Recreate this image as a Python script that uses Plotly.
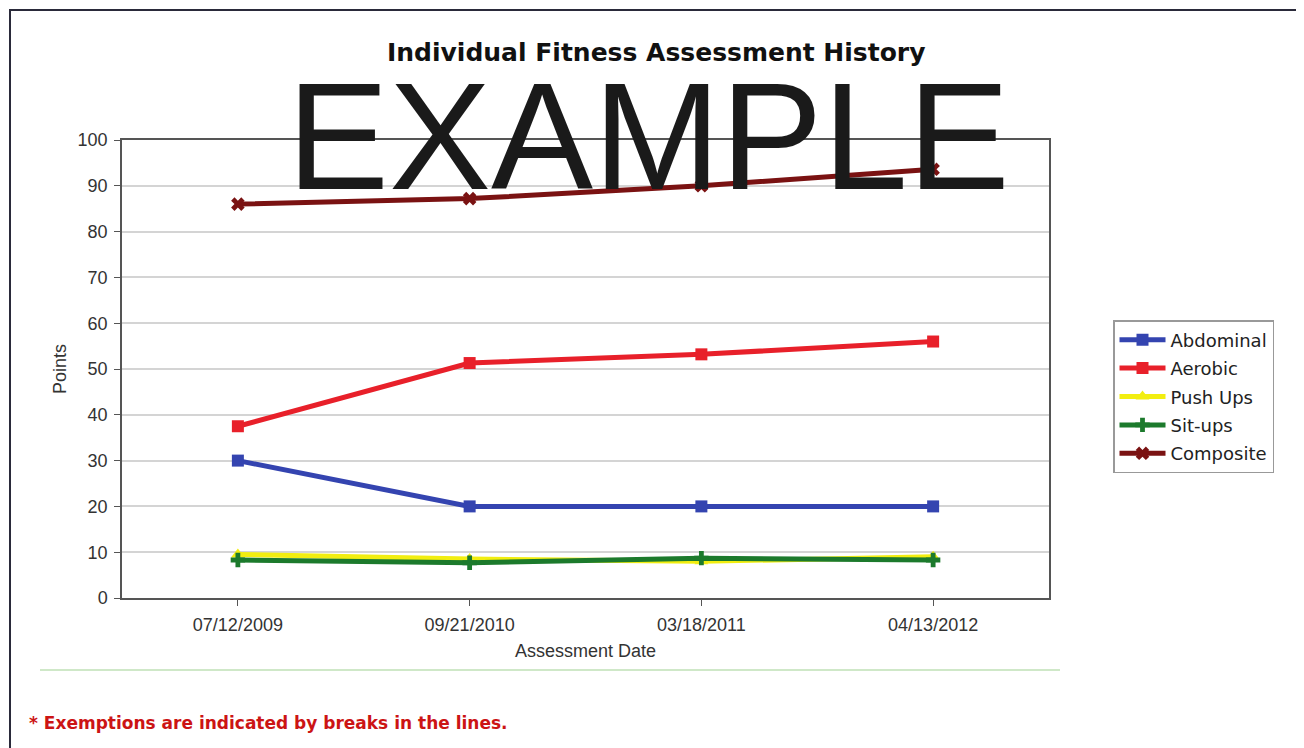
import plotly.graph_objects as go

dates = ["07/12/2009", "09/21/2010", "03/18/2011", "04/13/2012"]
abdominal = [30, 20, 20, 20]
aerobic = [37.5, 51.3, 53.2, 56.0]
push_ups = [9.5, 8.5, 8.0, 9.0]
sit_ups = [8.3, 7.7, 8.7, 8.3]
composite = [86.0, 87.2, 90.0, 93.6]
y_ticks = [0, 10, 20, 30, 40, 50, 60, 70, 80, 90, 100]

# page body has an 8px margin; work in screenshot pixels and shift
O = 8
W, H = 1304 - O, 748 - O
L, R, T, B = 122, 1049, 140, 598


def px(x):
    return (x - L) / (R - L)


def py(y):
    return (B - y) / (B - T)


series = [
    ("Abdominal", abdominal, "#3444B0", "square", "Abdominal"),
    ("Aerobic", aerobic, "#E8202A", "square", "Aerobic"),
    ("Push Ups", push_ups, "#F2EE10", "triangle-up", "Push Ups"),
    ("Sit-ups", sit_ups, "#1C7A2C", "cross", "Sit-ups"),
    ("Composite", composite, "#7A1212", "x", "Composite"),
]

fig = go.Figure()
for name, vals, col, sym, grp in series:
    fig.add_trace(go.Scatter(
        x=dates, y=vals, name=name, mode="lines+markers",
        line=dict(color=col, width=5),
        marker=dict(symbol=sym, size=12, color=col),
        legendgroup=grp,
    ))

axis_font = dict(family="Liberation Sans", size=18, color="#333333")

fig.update_layout(
    width=W, height=H,
    margin=dict(l=L - O, r=1304 - R, t=T - O, b=748 - B),
    paper_bgcolor="white", plot_bgcolor="white",
    showlegend=True,
    legend=dict(
        x=px(1113), y=py(320), xanchor="left", yanchor="top",
        bgcolor="white", bordercolor="#999999", borderwidth=1.5,
        font=dict(family="DejaVu Sans", size=18, color="#222222"),
        traceorder="grouped", tracegroupgap=2, itemwidth=46,
    ),
    xaxis=dict(
        type="category", range=[-0.5, 3.5],
        showgrid=False, showline=True, linecolor="#555555", linewidth=1.5,
        mirror=True, ticks="outside", ticklen=6, tickcolor="#555555",
        tickfont=axis_font, ticklabelstandoff=4,
        title=dict(text="Assessment Date", standoff=10, font=axis_font),
    ),
    yaxis=dict(
        range=[0, 100], tickvals=y_ticks,
        showgrid=True, gridcolor="#d4d4d4", gridwidth=1.5,
        showline=True, linecolor="#555555", linewidth=1.5, mirror=True,
        ticks="outside", ticklen=6, tickcolor="#555555", zeroline=False,
        tickfont=axis_font, ticklabelstandoff=3,
        title=dict(text="Points", standoff=6, font=axis_font),
    ),
)

fig.add_annotation(
    text="<b>Individual Fitness Assessment History</b>",
    xref="paper", yref="paper", x=px(656), y=py(53),
    showarrow=False, xanchor="center", yanchor="middle",
    font=dict(family="DejaVu Sans", size=25, color="#111111"),
)
fig.add_annotation(
    text="EXAMPLE",
    xref="paper", yref="paper", x=px(648), y=py(135),
    showarrow=False, xanchor="center", yanchor="middle",
    font=dict(family="Liberation Sans", size=153, color="#1a1a1a"),
)
fig.add_annotation(
    text="<b>* Exemptions are indicated by breaks in the lines.</b>",
    xref="paper", yref="paper", x=px(27), y=py(723),
    showarrow=False, xanchor="left", yanchor="middle",
    font=dict(family="DejaVu Sans", size=17, color="#CC1414"),
)

# outer frame (kept inside the figure area)
fig.add_shape(type="rect", xref="paper", yref="paper",
              x0=px(10), x1=px(1330), y0=py(10), y1=py(770),
              line=dict(color="#2a2a3a", width=2), layer="below")
# light green separator
fig.add_shape(type="line", xref="paper", yref="paper",
              x0=px(40), x1=px(1060), y0=py(670), y1=py(670),
              line=dict(color="#cfe8c8", width=2))

fig.write_html("out.html")
